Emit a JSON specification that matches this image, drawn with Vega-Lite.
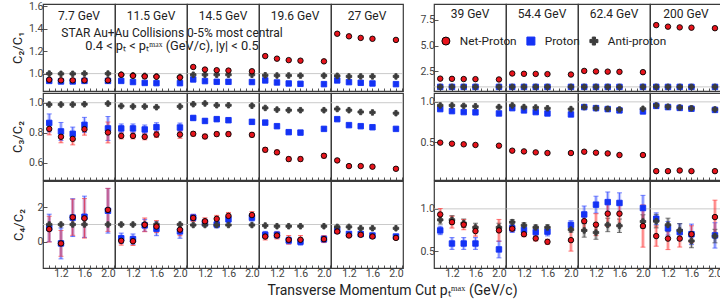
{
"$schema":"https://vega.github.io/schema/vega-lite/v6.json",
"padding":{"left":11,"top":1,"right":0,"bottom":2},
"config":{
 "font":"Roboto",
 "view":{"stroke":"#3a3a3a","strokeWidth":1.2},
 "axis":{"labelFont":"Roboto","labelFontSize":10.5,"labelColor":"#444","tickColor":"#555","domain":false,"grid":false,"tickSize":-4,"labelPadding":4,"titleFont":"Roboto","titleFontWeight":"normal","titleFontSize":13,"titleColor":"#222"},
 "legend":{"title":null,"labelFont":"Roboto","labelFontSize":11.8,"labelColor":"#222","symbolSize":64,"symbolStrokeWidth":1,"columnPadding":7,"labelOffset":8}
},
"title":{"text":"Transverse Momentum Cut pₜᵐᵃˣ (GeV/c)","orient":"bottom","anchor":"middle","fontSize":14,"fontWeight":"normal","font":"Roboto","color":"#222","offset":5,"dx":25},
"resolve":{"scale":{"x":"independent","y":"independent","shape":"shared","fill":"shared","stroke":"shared","color":"shared"},"legend":{"shape":"shared","fill":"shared","stroke":"shared"}},
"columns":2,
"spacing":{"row":-3,"column":15},
"datasets":{
"L1":[
{"e":"7.7 GeV","p":"Proton","x":1,"v":0.935},{"e":"7.7 GeV","p":"Proton","x":1.2,"v":0.93},{"e":"7.7 GeV","p":"Proton","x":1.4,"v":0.93},{"e":"7.7 GeV","p":"Proton","x":1.6,"v":0.935},{"e":"7.7 GeV","p":"Proton","x":2,"v":0.935},
{"e":"11.5 GeV","p":"Proton","x":1,"v":0.935},{"e":"11.5 GeV","p":"Proton","x":1.2,"v":0.925},{"e":"11.5 GeV","p":"Proton","x":1.4,"v":0.917},{"e":"11.5 GeV","p":"Proton","x":1.6,"v":0.915},{"e":"11.5 GeV","p":"Proton","x":2,"v":0.915},
{"e":"14.5 GeV","p":"Proton","x":1,"v":0.948},{"e":"14.5 GeV","p":"Proton","x":1.2,"v":0.933},{"e":"14.5 GeV","p":"Proton","x":1.4,"v":0.927},{"e":"14.5 GeV","p":"Proton","x":1.6,"v":0.927},{"e":"14.5 GeV","p":"Proton","x":2,"v":0.925},
{"e":"19.6 GeV","p":"Proton","x":1,"v":0.939},{"e":"19.6 GeV","p":"Proton","x":1.2,"v":0.921},{"e":"19.6 GeV","p":"Proton","x":1.4,"v":0.912},{"e":"19.6 GeV","p":"Proton","x":1.6,"v":0.909},{"e":"19.6 GeV","p":"Proton","x":2,"v":0.906},
{"e":"27 GeV","p":"Proton","x":1,"v":0.939},{"e":"27 GeV","p":"Proton","x":1.2,"v":0.924},{"e":"27 GeV","p":"Proton","x":1.4,"v":0.918},{"e":"27 GeV","p":"Proton","x":1.6,"v":0.912},{"e":"27 GeV","p":"Proton","x":2,"v":0.906},
{"e":"7.7 GeV","p":"Anti-proton","x":1,"v":1.0},{"e":"7.7 GeV","p":"Anti-proton","x":1.2,"v":0.998},{"e":"7.7 GeV","p":"Anti-proton","x":1.4,"v":0.998},{"e":"7.7 GeV","p":"Anti-proton","x":1.6,"v":1.0},{"e":"7.7 GeV","p":"Anti-proton","x":2,"v":1.0},
{"e":"11.5 GeV","p":"Anti-proton","x":1,"v":0.99},{"e":"11.5 GeV","p":"Anti-proton","x":1.2,"v":0.985},{"e":"11.5 GeV","p":"Anti-proton","x":1.4,"v":0.98},{"e":"11.5 GeV","p":"Anti-proton","x":1.6,"v":0.975},{"e":"11.5 GeV","p":"Anti-proton","x":2,"v":0.97},
{"e":"14.5 GeV","p":"Anti-proton","x":1,"v":0.99},{"e":"14.5 GeV","p":"Anti-proton","x":1.2,"v":0.99},{"e":"14.5 GeV","p":"Anti-proton","x":1.4,"v":0.99},{"e":"14.5 GeV","p":"Anti-proton","x":1.6,"v":0.99},{"e":"14.5 GeV","p":"Anti-proton","x":2,"v":0.99},
{"e":"19.6 GeV","p":"Anti-proton","x":1,"v":0.985},{"e":"19.6 GeV","p":"Anti-proton","x":1.2,"v":0.983},{"e":"19.6 GeV","p":"Anti-proton","x":1.4,"v":0.983},{"e":"19.6 GeV","p":"Anti-proton","x":1.6,"v":0.982},{"e":"19.6 GeV","p":"Anti-proton","x":2,"v":0.982},
{"e":"27 GeV","p":"Anti-proton","x":1,"v":0.98},{"e":"27 GeV","p":"Anti-proton","x":1.2,"v":0.975},{"e":"27 GeV","p":"Anti-proton","x":1.4,"v":0.975},{"e":"27 GeV","p":"Anti-proton","x":1.6,"v":0.975},{"e":"27 GeV","p":"Anti-proton","x":2,"v":0.975},
{"e":"7.7 GeV","p":"Net-Proton","x":1,"v":0.945},{"e":"7.7 GeV","p":"Net-Proton","x":1.2,"v":0.94},{"e":"7.7 GeV","p":"Net-Proton","x":1.4,"v":0.94},{"e":"7.7 GeV","p":"Net-Proton","x":1.6,"v":0.94},{"e":"7.7 GeV","p":"Net-Proton","x":2,"v":0.94},
{"e":"11.5 GeV","p":"Net-Proton","x":1,"v":0.99},{"e":"11.5 GeV","p":"Net-Proton","x":1.2,"v":0.98},{"e":"11.5 GeV","p":"Net-Proton","x":1.4,"v":0.975},{"e":"11.5 GeV","p":"Net-Proton","x":1.6,"v":0.972},{"e":"11.5 GeV","p":"Net-Proton","x":2,"v":0.965},
{"e":"14.5 GeV","p":"Net-Proton","x":1,"v":1.059},{"e":"14.5 GeV","p":"Net-Proton","x":1.2,"v":1.036},{"e":"14.5 GeV","p":"Net-Proton","x":1.4,"v":1.03},{"e":"14.5 GeV","p":"Net-Proton","x":1.6,"v":1.027},{"e":"14.5 GeV","p":"Net-Proton","x":2,"v":1.021},
{"e":"19.6 GeV","p":"Net-Proton","x":1,"v":1.156},{"e":"19.6 GeV","p":"Net-Proton","x":1.2,"v":1.133},{"e":"19.6 GeV","p":"Net-Proton","x":1.4,"v":1.12},{"e":"19.6 GeV","p":"Net-Proton","x":1.6,"v":1.115},{"e":"19.6 GeV","p":"Net-Proton","x":2,"v":1.109},
{"e":"27 GeV","p":"Net-Proton","x":1,"v":1.355},{"e":"27 GeV","p":"Net-Proton","x":1.2,"v":1.332},{"e":"27 GeV","p":"Net-Proton","x":1.4,"v":1.318},{"e":"27 GeV","p":"Net-Proton","x":1.6,"v":1.31},{"e":"27 GeV","p":"Net-Proton","x":2,"v":1.3}
],
"R1":[
{"e":"39 GeV","p":"Proton","x":1,"v":1.0},{"e":"39 GeV","p":"Proton","x":1.2,"v":1.0},{"e":"39 GeV","p":"Proton","x":1.4,"v":1.0},{"e":"39 GeV","p":"Proton","x":1.6,"v":1.0},{"e":"39 GeV","p":"Proton","x":2,"v":1.0},
{"e":"54.4 GeV","p":"Proton","x":1,"v":1.0},{"e":"54.4 GeV","p":"Proton","x":1.2,"v":1.0},{"e":"54.4 GeV","p":"Proton","x":1.4,"v":1.0},{"e":"54.4 GeV","p":"Proton","x":1.6,"v":1.0},{"e":"54.4 GeV","p":"Proton","x":2,"v":1.0},
{"e":"62.4 GeV","p":"Proton","x":1,"v":1.0},{"e":"62.4 GeV","p":"Proton","x":1.2,"v":1.0},{"e":"62.4 GeV","p":"Proton","x":1.4,"v":1.0},{"e":"62.4 GeV","p":"Proton","x":1.6,"v":1.0},{"e":"62.4 GeV","p":"Proton","x":2,"v":1.0},
{"e":"200 GeV","p":"Proton","x":1,"v":1.0},{"e":"200 GeV","p":"Proton","x":1.2,"v":1.0},{"e":"200 GeV","p":"Proton","x":1.4,"v":1.0},{"e":"200 GeV","p":"Proton","x":1.6,"v":1.0},{"e":"200 GeV","p":"Proton","x":2,"v":1.0},
{"e":"39 GeV","p":"Anti-proton","x":1,"v":1.0},{"e":"39 GeV","p":"Anti-proton","x":1.2,"v":1.0},{"e":"39 GeV","p":"Anti-proton","x":1.4,"v":1.0},{"e":"39 GeV","p":"Anti-proton","x":1.6,"v":1.0},{"e":"39 GeV","p":"Anti-proton","x":2,"v":1.0},
{"e":"54.4 GeV","p":"Anti-proton","x":1,"v":1.0},{"e":"54.4 GeV","p":"Anti-proton","x":1.2,"v":1.0},{"e":"54.4 GeV","p":"Anti-proton","x":1.4,"v":1.0},{"e":"54.4 GeV","p":"Anti-proton","x":1.6,"v":1.0},{"e":"54.4 GeV","p":"Anti-proton","x":2,"v":1.0},
{"e":"62.4 GeV","p":"Anti-proton","x":1,"v":1.0},{"e":"62.4 GeV","p":"Anti-proton","x":1.2,"v":1.0},{"e":"62.4 GeV","p":"Anti-proton","x":1.4,"v":1.0},{"e":"62.4 GeV","p":"Anti-proton","x":1.6,"v":1.0},{"e":"62.4 GeV","p":"Anti-proton","x":2,"v":1.0},
{"e":"200 GeV","p":"Anti-proton","x":1,"v":1.0},{"e":"200 GeV","p":"Anti-proton","x":1.2,"v":1.0},{"e":"200 GeV","p":"Anti-proton","x":1.4,"v":1.0},{"e":"200 GeV","p":"Anti-proton","x":1.6,"v":1.0},{"e":"200 GeV","p":"Anti-proton","x":2,"v":1.0},
{"e":"39 GeV","p":"Net-Proton","x":1,"v":1.8},{"e":"39 GeV","p":"Net-Proton","x":1.2,"v":1.78},{"e":"39 GeV","p":"Net-Proton","x":1.4,"v":1.76},{"e":"39 GeV","p":"Net-Proton","x":1.6,"v":1.75},{"e":"39 GeV","p":"Net-Proton","x":2,"v":1.72},
{"e":"54.4 GeV","p":"Net-Proton","x":1,"v":2.3},{"e":"54.4 GeV","p":"Net-Proton","x":1.2,"v":2.27},{"e":"54.4 GeV","p":"Net-Proton","x":1.4,"v":2.26},{"e":"54.4 GeV","p":"Net-Proton","x":1.6,"v":2.24},{"e":"54.4 GeV","p":"Net-Proton","x":2,"v":2.2},
{"e":"62.4 GeV","p":"Net-Proton","x":1,"v":2.55},{"e":"62.4 GeV","p":"Net-Proton","x":1.2,"v":2.5},{"e":"62.4 GeV","p":"Net-Proton","x":1.4,"v":2.48},{"e":"62.4 GeV","p":"Net-Proton","x":1.6,"v":2.46},{"e":"62.4 GeV","p":"Net-Proton","x":2,"v":2.43},
{"e":"200 GeV","p":"Net-Proton","x":1,"v":7.0},{"e":"200 GeV","p":"Net-Proton","x":1.2,"v":6.85},{"e":"200 GeV","p":"Net-Proton","x":1.4,"v":6.78},{"e":"200 GeV","p":"Net-Proton","x":1.6,"v":6.75},{"e":"200 GeV","p":"Net-Proton","x":2,"v":6.7}
],
"L2":[
{"e":"7.7 GeV","p":"Proton","x":1,"v":0.865,"s":0.06},{"e":"7.7 GeV","p":"Proton","x":1.2,"v":0.808,"s":0.06},{"e":"7.7 GeV","p":"Proton","x":1.4,"v":0.792,"s":0.045},{"e":"7.7 GeV","p":"Proton","x":1.6,"v":0.852,"s":0.05},{"e":"7.7 GeV","p":"Proton","x":2,"v":0.828,"s":0.08},
{"e":"11.5 GeV","p":"Proton","x":1,"v":0.828,"s":0.03},{"e":"11.5 GeV","p":"Proton","x":1.2,"v":0.828,"s":0.03},{"e":"11.5 GeV","p":"Proton","x":1.4,"v":0.821,"s":0.03},{"e":"11.5 GeV","p":"Proton","x":1.6,"v":0.836,"s":0.03},{"e":"11.5 GeV","p":"Proton","x":2,"v":0.834,"s":0.03},
{"e":"14.5 GeV","p":"Proton","x":1,"v":0.898,"s":0.015},{"e":"14.5 GeV","p":"Proton","x":1.2,"v":0.878,"s":0.015},{"e":"14.5 GeV","p":"Proton","x":1.4,"v":0.89,"s":0.015},{"e":"14.5 GeV","p":"Proton","x":1.6,"v":0.883,"s":0.015},{"e":"14.5 GeV","p":"Proton","x":2,"v":0.872,"s":0.015},
{"e":"19.6 GeV","p":"Proton","x":1,"v":0.867,"s":0.012},{"e":"19.6 GeV","p":"Proton","x":1.2,"v":0.843,"s":0.012},{"e":"19.6 GeV","p":"Proton","x":1.4,"v":0.803,"s":0.012},{"e":"19.6 GeV","p":"Proton","x":1.6,"v":0.8,"s":0.012},{"e":"19.6 GeV","p":"Proton","x":2,"v":0.825,"s":0.012},
{"e":"27 GeV","p":"Proton","x":1,"v":0.89,"s":0.008},{"e":"27 GeV","p":"Proton","x":1.2,"v":0.85,"s":0.008},{"e":"27 GeV","p":"Proton","x":1.4,"v":0.843,"s":0.008},{"e":"27 GeV","p":"Proton","x":1.6,"v":0.836,"s":0.008},{"e":"27 GeV","p":"Proton","x":2,"v":0.825,"s":0.008},
{"e":"7.7 GeV","p":"Anti-proton","x":1,"v":0.988},{"e":"7.7 GeV","p":"Anti-proton","x":1.2,"v":0.988},{"e":"7.7 GeV","p":"Anti-proton","x":1.4,"v":0.988},{"e":"7.7 GeV","p":"Anti-proton","x":1.6,"v":0.99},{"e":"7.7 GeV","p":"Anti-proton","x":2,"v":0.994},
{"e":"11.5 GeV","p":"Anti-proton","x":1,"v":0.978},{"e":"11.5 GeV","p":"Anti-proton","x":1.2,"v":0.975},{"e":"11.5 GeV","p":"Anti-proton","x":1.4,"v":0.975},{"e":"11.5 GeV","p":"Anti-proton","x":1.6,"v":0.97},{"e":"11.5 GeV","p":"Anti-proton","x":2,"v":0.975},
{"e":"14.5 GeV","p":"Anti-proton","x":1,"v":0.99},{"e":"14.5 GeV","p":"Anti-proton","x":1.2,"v":0.995},{"e":"14.5 GeV","p":"Anti-proton","x":1.4,"v":0.983},{"e":"14.5 GeV","p":"Anti-proton","x":1.6,"v":0.983},{"e":"14.5 GeV","p":"Anti-proton","x":2,"v":0.98},
{"e":"19.6 GeV","p":"Anti-proton","x":1,"v":0.965},{"e":"19.6 GeV","p":"Anti-proton","x":1.2,"v":0.954},{"e":"19.6 GeV","p":"Anti-proton","x":1.4,"v":0.95},{"e":"19.6 GeV","p":"Anti-proton","x":1.6,"v":0.95},{"e":"19.6 GeV","p":"Anti-proton","x":2,"v":0.95},
{"e":"27 GeV","p":"Anti-proton","x":1,"v":0.958},{"e":"27 GeV","p":"Anti-proton","x":1.2,"v":0.95},{"e":"27 GeV","p":"Anti-proton","x":1.4,"v":0.938},{"e":"27 GeV","p":"Anti-proton","x":1.6,"v":0.935},{"e":"27 GeV","p":"Anti-proton","x":2,"v":0.93},
{"e":"7.7 GeV","p":"Net-Proton","x":1,"v":0.825,"s":0.04},{"e":"7.7 GeV","p":"Net-Proton","x":1.2,"v":0.772,"s":0.04},{"e":"7.7 GeV","p":"Net-Proton","x":1.4,"v":0.758,"s":0.04},{"e":"7.7 GeV","p":"Net-Proton","x":1.6,"v":0.823,"s":0.04},{"e":"7.7 GeV","p":"Net-Proton","x":2,"v":0.801,"s":0.07},
{"e":"11.5 GeV","p":"Net-Proton","x":1,"v":0.778,"s":0.02},{"e":"11.5 GeV","p":"Net-Proton","x":1.2,"v":0.778,"s":0.02},{"e":"11.5 GeV","p":"Net-Proton","x":1.4,"v":0.772,"s":0.02},{"e":"11.5 GeV","p":"Net-Proton","x":1.6,"v":0.787,"s":0.02},{"e":"11.5 GeV","p":"Net-Proton","x":2,"v":0.787,"s":0.025},
{"e":"14.5 GeV","p":"Net-Proton","x":1,"v":0.792,"s":0.015},{"e":"14.5 GeV","p":"Net-Proton","x":1.2,"v":0.774,"s":0.015},{"e":"14.5 GeV","p":"Net-Proton","x":1.4,"v":0.79,"s":0.015},{"e":"14.5 GeV","p":"Net-Proton","x":1.6,"v":0.79,"s":0.015},{"e":"14.5 GeV","p":"Net-Proton","x":2,"v":0.785,"s":0.015},
{"e":"19.6 GeV","p":"Net-Proton","x":1,"v":0.685,"s":0.015},{"e":"19.6 GeV","p":"Net-Proton","x":1.2,"v":0.668,"s":0.015},{"e":"19.6 GeV","p":"Net-Proton","x":1.4,"v":0.623,"s":0.015},{"e":"19.6 GeV","p":"Net-Proton","x":1.6,"v":0.623,"s":0.015},{"e":"19.6 GeV","p":"Net-Proton","x":2,"v":0.645,"s":0.015},
{"e":"27 GeV","p":"Net-Proton","x":1,"v":0.614,"s":0.01},{"e":"27 GeV","p":"Net-Proton","x":1.2,"v":0.576,"s":0.01},{"e":"27 GeV","p":"Net-Proton","x":1.4,"v":0.576,"s":0.01},{"e":"27 GeV","p":"Net-Proton","x":1.6,"v":0.572,"s":0.01},{"e":"27 GeV","p":"Net-Proton","x":2,"v":0.558,"s":0.01}
],
"R2":[
{"e":"39 GeV","p":"Proton","x":1,"v":0.91},{"e":"39 GeV","p":"Proton","x":1.2,"v":0.885},{"e":"39 GeV","p":"Proton","x":1.4,"v":0.873},{"e":"39 GeV","p":"Proton","x":1.6,"v":0.87},{"e":"39 GeV","p":"Proton","x":2,"v":0.856},
{"e":"54.4 GeV","p":"Proton","x":1,"v":0.922},{"e":"54.4 GeV","p":"Proton","x":1.2,"v":0.894},{"e":"54.4 GeV","p":"Proton","x":1.4,"v":0.873},{"e":"54.4 GeV","p":"Proton","x":1.6,"v":0.856},{"e":"54.4 GeV","p":"Proton","x":2,"v":0.844},
{"e":"62.4 GeV","p":"Proton","x":1,"v":0.935},{"e":"62.4 GeV","p":"Proton","x":1.2,"v":0.922},{"e":"62.4 GeV","p":"Proton","x":1.4,"v":0.91},{"e":"62.4 GeV","p":"Proton","x":1.6,"v":0.894},{"e":"62.4 GeV","p":"Proton","x":2,"v":0.881},
{"e":"200 GeV","p":"Proton","x":1,"v":0.95},{"e":"200 GeV","p":"Proton","x":1.2,"v":0.935},{"e":"200 GeV","p":"Proton","x":1.4,"v":0.925},{"e":"200 GeV","p":"Proton","x":1.6,"v":0.915},{"e":"200 GeV","p":"Proton","x":2,"v":0.9},
{"e":"39 GeV","p":"Anti-proton","x":1,"v":0.956},{"e":"39 GeV","p":"Anti-proton","x":1.2,"v":0.956},{"e":"39 GeV","p":"Anti-proton","x":1.4,"v":0.95},{"e":"39 GeV","p":"Anti-proton","x":1.6,"v":0.945},{"e":"39 GeV","p":"Anti-proton","x":2,"v":0.935},
{"e":"54.4 GeV","p":"Anti-proton","x":1,"v":0.956},{"e":"54.4 GeV","p":"Anti-proton","x":1.2,"v":0.935},{"e":"54.4 GeV","p":"Anti-proton","x":1.4,"v":0.93},{"e":"54.4 GeV","p":"Anti-proton","x":1.6,"v":0.92},{"e":"54.4 GeV","p":"Anti-proton","x":2,"v":0.91},
{"e":"62.4 GeV","p":"Anti-proton","x":1,"v":0.935},{"e":"62.4 GeV","p":"Anti-proton","x":1.2,"v":0.922},{"e":"62.4 GeV","p":"Anti-proton","x":1.4,"v":0.914},{"e":"62.4 GeV","p":"Anti-proton","x":1.6,"v":0.906},{"e":"62.4 GeV","p":"Anti-proton","x":2,"v":0.914},
{"e":"200 GeV","p":"Anti-proton","x":1,"v":0.956},{"e":"200 GeV","p":"Anti-proton","x":1.2,"v":0.94},{"e":"200 GeV","p":"Anti-proton","x":1.4,"v":0.93},{"e":"200 GeV","p":"Anti-proton","x":1.6,"v":0.92},{"e":"200 GeV","p":"Anti-proton","x":2,"v":0.906},
{"e":"39 GeV","p":"Net-Proton","x":1,"v":0.494},{"e":"39 GeV","p":"Net-Proton","x":1.2,"v":0.481},{"e":"39 GeV","p":"Net-Proton","x":1.4,"v":0.473},{"e":"39 GeV","p":"Net-Proton","x":1.6,"v":0.465},{"e":"39 GeV","p":"Net-Proton","x":2,"v":0.456},
{"e":"54.4 GeV","p":"Net-Proton","x":1,"v":0.394},{"e":"54.4 GeV","p":"Net-Proton","x":1.2,"v":0.385},{"e":"54.4 GeV","p":"Net-Proton","x":1.4,"v":0.373},{"e":"54.4 GeV","p":"Net-Proton","x":1.6,"v":0.365},{"e":"54.4 GeV","p":"Net-Proton","x":2,"v":0.365},
{"e":"62.4 GeV","p":"Net-Proton","x":1,"v":0.381},{"e":"62.4 GeV","p":"Net-Proton","x":1.2,"v":0.369},{"e":"62.4 GeV","p":"Net-Proton","x":1.4,"v":0.36},{"e":"62.4 GeV","p":"Net-Proton","x":1.6,"v":0.34},{"e":"62.4 GeV","p":"Net-Proton","x":2,"v":0.34},
{"e":"200 GeV","p":"Net-Proton","x":1,"v":0.14},{"e":"200 GeV","p":"Net-Proton","x":1.2,"v":0.14},{"e":"200 GeV","p":"Net-Proton","x":1.4,"v":0.148},{"e":"200 GeV","p":"Net-Proton","x":1.6,"v":0.14},{"e":"200 GeV","p":"Net-Proton","x":2,"v":0.14}
],
"L3":[
{"e":"7.7 GeV","p":"Proton","x":1,"v":0.8,"s":0.8},{"e":"7.7 GeV","p":"Proton","x":1.2,"v":-0.1,"s":0.9},{"e":"7.7 GeV","p":"Proton","x":1.4,"v":1.4,"s":1.1},{"e":"7.7 GeV","p":"Proton","x":1.6,"v":1.45,"s":1.2},{"e":"7.7 GeV","p":"Proton","x":2,"v":1.8,"s":1.3},
{"e":"11.5 GeV","p":"Proton","x":1,"v":0.2,"s":0.3},{"e":"11.5 GeV","p":"Proton","x":1.2,"v":0.15,"s":0.3},{"e":"11.5 GeV","p":"Proton","x":1.4,"v":0.95,"s":0.35},{"e":"11.5 GeV","p":"Proton","x":1.6,"v":0.75,"s":0.4},{"e":"11.5 GeV","p":"Proton","x":2,"v":0.6,"s":0.4},
{"e":"14.5 GeV","p":"Proton","x":1,"v":1.4,"s":0.2},{"e":"14.5 GeV","p":"Proton","x":1.2,"v":1.1,"s":0.2},{"e":"14.5 GeV","p":"Proton","x":1.4,"v":1.0,"s":0.2},{"e":"14.5 GeV","p":"Proton","x":1.6,"v":1.3,"s":0.2},{"e":"14.5 GeV","p":"Proton","x":2,"v":1.4,"s":0.2},
{"e":"19.6 GeV","p":"Proton","x":1,"v":0.4,"s":0.2},{"e":"19.6 GeV","p":"Proton","x":1.2,"v":0.4,"s":0.2},{"e":"19.6 GeV","p":"Proton","x":1.4,"v":0.07,"s":0.2},{"e":"19.6 GeV","p":"Proton","x":1.6,"v":0.0,"s":0.2},{"e":"19.6 GeV","p":"Proton","x":2,"v":0.15,"s":0.2},
{"e":"27 GeV","p":"Proton","x":1,"v":0.65,"s":0.1},{"e":"27 GeV","p":"Proton","x":1.2,"v":0.45,"s":0.1},{"e":"27 GeV","p":"Proton","x":1.4,"v":0.45,"s":0.1},{"e":"27 GeV","p":"Proton","x":1.6,"v":0.36,"s":0.1},{"e":"27 GeV","p":"Proton","x":2,"v":0.3,"s":0.1},
{"e":"7.7 GeV","p":"Anti-proton","x":1,"v":1.0},{"e":"7.7 GeV","p":"Anti-proton","x":1.2,"v":1.0},{"e":"7.7 GeV","p":"Anti-proton","x":1.4,"v":1.0},{"e":"7.7 GeV","p":"Anti-proton","x":1.6,"v":1.0},{"e":"7.7 GeV","p":"Anti-proton","x":2,"v":1.0},
{"e":"11.5 GeV","p":"Anti-proton","x":1,"v":1.0},{"e":"11.5 GeV","p":"Anti-proton","x":1.2,"v":1.0},{"e":"11.5 GeV","p":"Anti-proton","x":1.4,"v":1.0},{"e":"11.5 GeV","p":"Anti-proton","x":1.6,"v":1.0},{"e":"11.5 GeV","p":"Anti-proton","x":2,"v":1.0},
{"e":"14.5 GeV","p":"Anti-proton","x":1,"v":0.97},{"e":"14.5 GeV","p":"Anti-proton","x":1.2,"v":0.97},{"e":"14.5 GeV","p":"Anti-proton","x":1.4,"v":0.97},{"e":"14.5 GeV","p":"Anti-proton","x":1.6,"v":0.97},{"e":"14.5 GeV","p":"Anti-proton","x":2,"v":0.97},
{"e":"19.6 GeV","p":"Anti-proton","x":1,"v":0.94},{"e":"19.6 GeV","p":"Anti-proton","x":1.2,"v":0.9},{"e":"19.6 GeV","p":"Anti-proton","x":1.4,"v":0.9},{"e":"19.6 GeV","p":"Anti-proton","x":1.6,"v":0.9},{"e":"19.6 GeV","p":"Anti-proton","x":2,"v":0.9},
{"e":"27 GeV","p":"Anti-proton","x":1,"v":0.86},{"e":"27 GeV","p":"Anti-proton","x":1.2,"v":0.86},{"e":"27 GeV","p":"Anti-proton","x":1.4,"v":0.78},{"e":"27 GeV","p":"Anti-proton","x":1.6,"v":0.78},{"e":"27 GeV","p":"Anti-proton","x":2,"v":0.78},
{"e":"7.7 GeV","p":"Net-Proton","x":1,"v":0.73,"s":0.75},{"e":"7.7 GeV","p":"Net-Proton","x":1.2,"v":-0.1,"s":0.75},{"e":"7.7 GeV","p":"Net-Proton","x":1.4,"v":1.42,"s":1.05},{"e":"7.7 GeV","p":"Net-Proton","x":1.6,"v":1.36,"s":1.15},{"e":"7.7 GeV","p":"Net-Proton","x":2,"v":1.85,"s":1.25},
{"e":"11.5 GeV","p":"Net-Proton","x":1,"v":0.05,"s":0.25},{"e":"11.5 GeV","p":"Net-Proton","x":1.2,"v":0.03,"s":0.25},{"e":"11.5 GeV","p":"Net-Proton","x":1.4,"v":0.98,"s":0.4},{"e":"11.5 GeV","p":"Net-Proton","x":1.6,"v":0.88,"s":0.35},{"e":"11.5 GeV","p":"Net-Proton","x":2,"v":0.7,"s":0.35},
{"e":"14.5 GeV","p":"Net-Proton","x":1,"v":1.38,"s":0.2},{"e":"14.5 GeV","p":"Net-Proton","x":1.2,"v":1.19,"s":0.2},{"e":"14.5 GeV","p":"Net-Proton","x":1.4,"v":1.33,"s":0.2},{"e":"14.5 GeV","p":"Net-Proton","x":1.6,"v":1.5,"s":0.2},{"e":"14.5 GeV","p":"Net-Proton","x":2,"v":1.55,"s":0.2},
{"e":"19.6 GeV","p":"Net-Proton","x":1,"v":0.3,"s":0.2},{"e":"19.6 GeV","p":"Net-Proton","x":1.2,"v":0.36,"s":0.2},{"e":"19.6 GeV","p":"Net-Proton","x":1.4,"v":0.11,"s":0.25},{"e":"19.6 GeV","p":"Net-Proton","x":1.6,"v":0.11,"s":0.25},{"e":"19.6 GeV","p":"Net-Proton","x":2,"v":0.15,"s":0.2},
{"e":"27 GeV","p":"Net-Proton","x":1,"v":0.59,"s":0.1},{"e":"27 GeV","p":"Net-Proton","x":1.2,"v":0.36,"s":0.1},{"e":"27 GeV","p":"Net-Proton","x":1.4,"v":0.4,"s":0.1},{"e":"27 GeV","p":"Net-Proton","x":1.6,"v":0.3,"s":0.1},{"e":"27 GeV","p":"Net-Proton","x":2,"v":0.22,"s":0.1}
],
"R3":[
{"e":"39 GeV","p":"Proton","x":1,"v":0.745,"s":0.05},{"e":"39 GeV","p":"Proton","x":1.2,"v":0.59,"s":0.07},{"e":"39 GeV","p":"Proton","x":1.4,"v":0.59,"s":0.07},{"e":"39 GeV","p":"Proton","x":1.6,"v":0.59,"s":0.07},{"e":"39 GeV","p":"Proton","x":2,"v":0.52,"s":0.1},
{"e":"54.4 GeV","p":"Proton","x":1,"v":0.77,"s":0.05},{"e":"54.4 GeV","p":"Proton","x":1.2,"v":0.75,"s":0.05},{"e":"54.4 GeV","p":"Proton","x":1.4,"v":0.725,"s":0.05},{"e":"54.4 GeV","p":"Proton","x":1.6,"v":0.73,"s":0.05},{"e":"54.4 GeV","p":"Proton","x":2,"v":0.81,"s":0.05},
{"e":"62.4 GeV","p":"Proton","x":1,"v":0.934,"s":0.1},{"e":"62.4 GeV","p":"Proton","x":1.2,"v":1.05,"s":0.1},{"e":"62.4 GeV","p":"Proton","x":1.4,"v":1.08,"s":0.12},{"e":"62.4 GeV","p":"Proton","x":1.6,"v":1.07,"s":0.12},{"e":"62.4 GeV","p":"Proton","x":2,"v":1.01,"s":0.15},
{"e":"200 GeV","p":"Proton","x":1,"v":0.883,"s":0.07},{"e":"200 GeV","p":"Proton","x":1.2,"v":0.77,"s":0.08},{"e":"200 GeV","p":"Proton","x":1.4,"v":0.725,"s":0.1},{"e":"200 GeV","p":"Proton","x":1.6,"v":0.7,"s":0.12},{"e":"200 GeV","p":"Proton","x":2,"v":0.686,"s":0.15},
{"e":"39 GeV","p":"Anti-proton","x":1,"v":0.87,"s":0.05},{"e":"39 GeV","p":"Anti-proton","x":1.2,"v":0.87,"s":0.05},{"e":"39 GeV","p":"Anti-proton","x":1.4,"v":0.83,"s":0.05},{"e":"39 GeV","p":"Anti-proton","x":1.6,"v":0.78,"s":0.05},{"e":"39 GeV","p":"Anti-proton","x":2,"v":0.78,"s":0.05},
{"e":"54.4 GeV","p":"Anti-proton","x":1,"v":0.843,"s":0.03},{"e":"54.4 GeV","p":"Anti-proton","x":1.2,"v":0.805,"s":0.03},{"e":"54.4 GeV","p":"Anti-proton","x":1.4,"v":0.78,"s":0.03},{"e":"54.4 GeV","p":"Anti-proton","x":1.6,"v":0.78,"s":0.03},{"e":"54.4 GeV","p":"Anti-proton","x":2,"v":0.755,"s":0.03},
{"e":"62.4 GeV","p":"Anti-proton","x":1,"v":0.745,"s":0.08},{"e":"62.4 GeV","p":"Anti-proton","x":1.2,"v":0.72,"s":0.08},{"e":"62.4 GeV","p":"Anti-proton","x":1.4,"v":0.81,"s":0.08},{"e":"62.4 GeV","p":"Anti-proton","x":1.6,"v":0.8,"s":0.08},{"e":"62.4 GeV","p":"Anti-proton","x":2,"v":0.85,"s":0.08},
{"e":"200 GeV","p":"Anti-proton","x":1,"v":0.855,"s":0.08},{"e":"200 GeV","p":"Anti-proton","x":1.2,"v":0.81,"s":0.08},{"e":"200 GeV","p":"Anti-proton","x":1.4,"v":0.745,"s":0.08},{"e":"200 GeV","p":"Anti-proton","x":1.6,"v":0.62,"s":0.08},{"e":"200 GeV","p":"Anti-proton","x":2,"v":0.678,"s":0.08},
{"e":"39 GeV","p":"Net-Proton","x":1,"v":0.934,"s":0.07},{"e":"39 GeV","p":"Net-Proton","x":1.2,"v":0.843,"s":0.07},{"e":"39 GeV","p":"Net-Proton","x":1.4,"v":0.813,"s":0.06},{"e":"39 GeV","p":"Net-Proton","x":1.6,"v":0.737,"s":0.06},{"e":"39 GeV","p":"Net-Proton","x":2,"v":0.745,"s":0.13},
{"e":"54.4 GeV","p":"Net-Proton","x":1,"v":0.766,"s":0.03},{"e":"54.4 GeV","p":"Net-Proton","x":1.2,"v":0.7,"s":0.03},{"e":"54.4 GeV","p":"Net-Proton","x":1.4,"v":0.65,"s":0.03},{"e":"54.4 GeV","p":"Net-Proton","x":1.6,"v":0.61,"s":0.03},{"e":"54.4 GeV","p":"Net-Proton","x":2,"v":0.63,"s":0.13},
{"e":"62.4 GeV","p":"Net-Proton","x":1,"v":0.855,"s":0.1},{"e":"62.4 GeV","p":"Net-Proton","x":1.2,"v":0.813,"s":0.13},{"e":"62.4 GeV","p":"Net-Proton","x":1.4,"v":0.943,"s":0.15},{"e":"62.4 GeV","p":"Net-Proton","x":1.6,"v":0.943,"s":0.15},{"e":"62.4 GeV","p":"Net-Proton","x":2,"v":0.797,"s":0.25},
{"e":"200 GeV","p":"Net-Proton","x":1,"v":0.678,"s":0.12},{"e":"200 GeV","p":"Net-Proton","x":1.2,"v":0.648,"s":0.13},{"e":"200 GeV","p":"Net-Proton","x":1.4,"v":0.648,"s":0.1},{"e":"200 GeV","p":"Net-Proton","x":1.6,"v":0.7,"s":0.1},{"e":"200 GeV","p":"Net-Proton","x":2,"v":0.903,"s":0.2}
]
},
"concat":[
{"data":{"name":"L1"},"spacing":0,"bounds":"flush",
 "facet":{"column":{"field":"e","type":"nominal","sort":["7.7 GeV","11.5 GeV","14.5 GeV","19.6 GeV","27 GeV"],"title":null,"header":{"labels":false,"title":null}}},
 "spec":{"width":72,"height":87,
  "encoding":{
    "x":{"field":"x","type":"quantitative","scale":{"domain":[0.894,2.12],"nice":false,"zero":false},"axis":{"values":[1.0,1.1,1.2,1.3,1.4,1.5,1.6,1.7,1.8,1.9,2.0,2.1],"labels":false,"title":null,"tickSize":-3}},
    "y":{"field":"v","type":"quantitative","title":"C₂/C₁","scale":{"domain":[0.845,1.62],"nice":false,"zero":false},"axis":{"values":[1.0,1.2,1.4,1.6],"format":".1f","titlePadding":3.5}}},
  "layer":[
  {"transform":[{"filter":"datum.x==1 && datum.p=='Net-Proton'"}],"mark":{"type":"rule","color":"#bdbdbd","strokeWidth":0.8},"encoding":{"x":{"datum":0.894},"x2":{"datum":2.12},"y":{"datum":1}}},
  {"mark":{"type":"point","filled":true,"size":30,"strokeWidth":0.9,"opacity":1},
   "encoding":{
    "shape":{"field":"p","type":"nominal","scale":{"domain":["Net-Proton","Proton","Anti-proton"],"range":["circle","square","cross"]},"legend":{"orient":"none","legendX":397,"legendY":31,"direction":"horizontal","title":null}},
    "fill":{"field":"p","type":"nominal","scale":{"domain":["Net-Proton","Proton","Anti-proton"],"range":["#e8141c","#1432f5","#3c3c3c"]},"legend":{"orient":"none","legendX":397,"legendY":31,"direction":"horizontal","title":null}},
    "stroke":{"field":"p","type":"nominal","scale":{"domain":["Net-Proton","Proton","Anti-proton"],"range":["#000000","#1432f5","#3c3c3c"]},"legend":{"orient":"none","legendX":397,"legendY":31,"direction":"horizontal","title":null}}}},
  {"transform":[{"filter":"datum.x==1 && datum.p=='Net-Proton'"}],"mark":{"type":"text","fontSize":12,"color":"#222","align":"center","baseline":"middle"},"encoding":{"x":{"datum":1.507},"y":{"datum":1.514},"text":{"field":"e"}}},
  {"transform":[{"filter":"datum.x==1 && datum.p=='Net-Proton' && datum.e=='7.7 GeV'"}],"mark":{"type":"text","fontSize":12,"color":"#222","align":"center","baseline":"middle"},"encoding":{"x":{"datum":3.09},"y":{"datum":1.365},"text":{"value":"STAR Au+Au Collisions 0-5% most central"}}},
  {"transform":[{"filter":"datum.x==1 && datum.p=='Net-Proton' && datum.e=='7.7 GeV'"}],"mark":{"type":"text","fontSize":12.8,"color":"#222","align":"center","baseline":"middle"},"encoding":{"x":{"datum":3.09},"y":{"datum":1.245},"text":{"value":"0.4 < pₜ < pₜᵐᵃˣ (GeV/c), |y| < 0.5"}}}
 ]}},
{"data":{"name":"R1"},"spacing":0,"bounds":"flush",
 "facet":{"column":{"field":"e","type":"nominal","sort":["39 GeV","54.4 GeV","62.4 GeV","200 GeV"],"title":null,"header":{"labels":false,"title":null}}},
 "spec":{"width":72,"height":87,
  "encoding":{
    "x":{"field":"x","type":"quantitative","scale":{"domain":[0.894,2.12],"nice":false,"zero":false},"axis":{"values":[1.0,1.1,1.2,1.3,1.4,1.5,1.6,1.7,1.8,1.9,2.0,2.1],"labels":false,"title":null,"tickSize":-3}},
    "y":{"field":"v","type":"quantitative","title":null,"scale":{"domain":[0.6,9.05],"nice":false,"zero":false},"axis":{"values":[2.5,5,7.5],"format":".1f","labelPadding":3.5}}},
  "layer":[
  {"transform":[{"filter":"datum.x==1 && datum.p=='Net-Proton'"}],"mark":{"type":"rule","color":"#bdbdbd","strokeWidth":0.8},"encoding":{"x":{"datum":0.894},"x2":{"datum":2.12},"y":{"datum":1}}},
  {"mark":{"type":"point","filled":true,"size":30,"strokeWidth":0.9,"opacity":1},
   "encoding":{
    "shape":{"field":"p","type":"nominal","scale":{"domain":["Net-Proton","Proton","Anti-proton"],"range":["circle","square","cross"]}},
    "fill":{"field":"p","type":"nominal","scale":{"domain":["Net-Proton","Proton","Anti-proton"],"range":["#e8141c","#1432f5","#3c3c3c"]}},
    "stroke":{"field":"p","type":"nominal","scale":{"domain":["Net-Proton","Proton","Anti-proton"],"range":["#000000","#1432f5","#3c3c3c"]}}}},
  {"transform":[{"filter":"datum.x==1 && datum.p=='Net-Proton'"}],"mark":{"type":"text","fontSize":12,"color":"#222","align":"center","baseline":"middle"},"encoding":{"x":{"datum":1.507},"y":{"datum":8.06},"text":{"field":"e"}}}
 ]}},
{"data":{"name":"L2"},"spacing":0,"bounds":"flush",
 "facet":{"column":{"field":"e","type":"nominal","sort":["7.7 GeV","11.5 GeV","14.5 GeV","19.6 GeV","27 GeV"],"title":null,"header":{"labels":false,"title":null}}},
 "spec":{"width":72,"height":87,
  "encoding":{
    "x":{"field":"x","type":"quantitative","scale":{"domain":[0.894,2.12],"nice":false,"zero":false},"axis":{"values":[1.0,1.1,1.2,1.3,1.4,1.5,1.6,1.7,1.8,1.9,2.0,2.1],"labels":false,"title":null,"tickSize":-3}},
    "y":{"field":"v","type":"quantitative","title":"C₃/C₂","scale":{"domain":[0.483,1.065],"nice":false,"zero":false},"axis":{"values":[0.6,0.8,1.0],"format":".1f","titlePadding":3.5}}},
  "layer":[
  {"transform":[{"filter":"datum.x==1 && datum.p=='Net-Proton'"}],"mark":{"type":"rule","color":"#bdbdbd","strokeWidth":0.8},"encoding":{"x":{"datum":0.894},"x2":{"datum":2.12},"y":{"datum":1}}},
  {"transform":[{"filter":"datum.s>0"}],"mark":{"type":"errorbar","rule":{"strokeWidth":3.5,"opacity":0.3}},
   "encoding":{"yError":{"field":"s"},"color":{"field":"p","type":"nominal","scale":{"domain":["Net-Proton","Proton","Anti-proton"],"range":["#ff4040","#3a50ff","#444444"]},"legend":null}}},
  {"transform":[{"filter":"datum.s>0"}],"mark":{"type":"errorbar","ticks":true,"rule":{"strokeWidth":1,"opacity":0.8}},
   "encoding":{"yError":{"field":"s"},"color":{"field":"p","type":"nominal","scale":{"domain":["Net-Proton","Proton","Anti-proton"],"range":["#ff4040","#3a50ff","#444444"]},"legend":null}}},
  {"mark":{"type":"point","filled":true,"size":30,"strokeWidth":0.9,"opacity":1},
   "encoding":{
    "shape":{"field":"p","type":"nominal","scale":{"domain":["Net-Proton","Proton","Anti-proton"],"range":["circle","square","cross"]}},
    "fill":{"field":"p","type":"nominal","scale":{"domain":["Net-Proton","Proton","Anti-proton"],"range":["#e8141c","#1432f5","#3c3c3c"]}},
    "stroke":{"field":"p","type":"nominal","scale":{"domain":["Net-Proton","Proton","Anti-proton"],"range":["#000000","#1432f5","#3c3c3c"]}}}}
 ]}},
{"data":{"name":"R2"},"spacing":0,"bounds":"flush",
 "facet":{"column":{"field":"e","type":"nominal","sort":["39 GeV","54.4 GeV","62.4 GeV","200 GeV"],"title":null,"header":{"labels":false,"title":null}}},
 "spec":{"width":72,"height":87,
  "encoding":{
    "x":{"field":"x","type":"quantitative","scale":{"domain":[0.894,2.12],"nice":false,"zero":false},"axis":{"values":[1.0,1.1,1.2,1.3,1.4,1.5,1.6,1.7,1.8,1.9,2.0,2.1],"labels":false,"title":null,"tickSize":-3}},
    "y":{"field":"v","type":"quantitative","title":null,"scale":{"domain":[0.03,1.11],"nice":false,"zero":false},"axis":{"values":[0.5,1.0],"format":".1f","labelPadding":3.5}}},
  "layer":[
  {"transform":[{"filter":"datum.x==1 && datum.p=='Net-Proton'"}],"mark":{"type":"rule","color":"#bdbdbd","strokeWidth":0.8},"encoding":{"x":{"datum":0.894},"x2":{"datum":2.12},"y":{"datum":1}}},
  {"mark":{"type":"point","filled":true,"size":30,"strokeWidth":0.9,"opacity":1},
   "encoding":{
    "shape":{"field":"p","type":"nominal","scale":{"domain":["Net-Proton","Proton","Anti-proton"],"range":["circle","square","cross"]}},
    "fill":{"field":"p","type":"nominal","scale":{"domain":["Net-Proton","Proton","Anti-proton"],"range":["#e8141c","#1432f5","#3c3c3c"]}},
    "stroke":{"field":"p","type":"nominal","scale":{"domain":["Net-Proton","Proton","Anti-proton"],"range":["#000000","#1432f5","#3c3c3c"]}}}}
 ]}},
{"data":{"name":"L3"},"spacing":0,"bounds":"flush",
 "facet":{"column":{"field":"e","type":"nominal","sort":["7.7 GeV","11.5 GeV","14.5 GeV","19.6 GeV","27 GeV"],"title":null,"header":{"labels":false,"title":null}}},
 "spec":{"width":72,"height":87,
  "encoding":{
    "x":{"field":"x","type":"quantitative","scale":{"domain":[0.894,2.12],"nice":false,"zero":false},"axis":{"values":[1.0,1.1,1.2,1.3,1.4,1.5,1.6,1.7,1.8,1.9,2.0,2.1],"labelExpr":"(datum.value>1.19 && datum.value<1.21) || (datum.value>1.59 && datum.value<1.61) || (datum.value>1.99 && datum.value<2.01) ? format(datum.value,'.1f') : ''","title":null,"tickSize":-3,"labelPadding":3}},
    "y":{"field":"v","type":"quantitative","title":"C₄/C₂","scale":{"domain":[-1.53,3.53],"nice":false,"zero":false},"axis":{"values":[0,2],"format":"d","titlePadding":12}}},
  "layer":[
  {"transform":[{"filter":"datum.x==1 && datum.p=='Net-Proton'"}],"mark":{"type":"rule","color":"#bdbdbd","strokeWidth":0.8},"encoding":{"x":{"datum":0.894},"x2":{"datum":2.12},"y":{"datum":1}}},
  {"transform":[{"filter":"datum.s>0"}],"mark":{"type":"errorbar","rule":{"strokeWidth":3.5,"opacity":0.3}},
   "encoding":{"yError":{"field":"s"},"color":{"field":"p","type":"nominal","scale":{"domain":["Net-Proton","Proton","Anti-proton"],"range":["#ff4040","#3a50ff","#444444"]},"legend":null}}},
  {"transform":[{"filter":"datum.s>0"}],"mark":{"type":"errorbar","ticks":true,"rule":{"strokeWidth":1,"opacity":0.8}},
   "encoding":{"yError":{"field":"s"},"color":{"field":"p","type":"nominal","scale":{"domain":["Net-Proton","Proton","Anti-proton"],"range":["#ff4040","#3a50ff","#444444"]},"legend":null}}},
  {"mark":{"type":"point","filled":true,"size":30,"strokeWidth":0.9,"opacity":1},
   "encoding":{
    "shape":{"field":"p","type":"nominal","scale":{"domain":["Net-Proton","Proton","Anti-proton"],"range":["circle","square","cross"]}},
    "fill":{"field":"p","type":"nominal","scale":{"domain":["Net-Proton","Proton","Anti-proton"],"range":["#e8141c","#1432f5","#3c3c3c"]}},
    "stroke":{"field":"p","type":"nominal","scale":{"domain":["Net-Proton","Proton","Anti-proton"],"range":["#000000","#1432f5","#3c3c3c"]}}}}
 ]}},
{"data":{"name":"R3"},"spacing":0,"bounds":"flush",
 "facet":{"column":{"field":"e","type":"nominal","sort":["39 GeV","54.4 GeV","62.4 GeV","200 GeV"],"title":null,"header":{"labels":false,"title":null}}},
 "spec":{"width":72,"height":87,
  "encoding":{
    "x":{"field":"x","type":"quantitative","scale":{"domain":[0.894,2.12],"nice":false,"zero":false},"axis":{"values":[1.0,1.1,1.2,1.3,1.4,1.5,1.6,1.7,1.8,1.9,2.0,2.1],"labelExpr":"(datum.value>1.19 && datum.value<1.21) || (datum.value>1.59 && datum.value<1.61) || (datum.value>1.99 && datum.value<2.01) ? format(datum.value,'.1f') : ''","title":null,"tickSize":-3,"labelPadding":3}},
    "y":{"field":"v","type":"quantitative","title":null,"scale":{"domain":[0.3,1.33],"nice":false,"zero":false},"axis":{"values":[0.5,1.0],"format":".1f","labelPadding":3.5}}},
  "layer":[
  {"transform":[{"filter":"datum.x==1 && datum.p=='Net-Proton'"}],"mark":{"type":"rule","color":"#bdbdbd","strokeWidth":0.8},"encoding":{"x":{"datum":0.894},"x2":{"datum":2.12},"y":{"datum":1}}},
  {"transform":[{"filter":"datum.s>0"}],"mark":{"type":"errorbar","rule":{"strokeWidth":3.5,"opacity":0.3}},
   "encoding":{"yError":{"field":"s"},"color":{"field":"p","type":"nominal","scale":{"domain":["Net-Proton","Proton","Anti-proton"],"range":["#ff4040","#3a50ff","#444444"]},"legend":null}}},
  {"transform":[{"filter":"datum.s>0"}],"mark":{"type":"errorbar","ticks":true,"rule":{"strokeWidth":1,"opacity":0.8}},
   "encoding":{"yError":{"field":"s"},"color":{"field":"p","type":"nominal","scale":{"domain":["Net-Proton","Proton","Anti-proton"],"range":["#ff4040","#3a50ff","#444444"]},"legend":null}}},
  {"mark":{"type":"point","filled":true,"size":30,"strokeWidth":0.9,"opacity":1},
   "encoding":{
    "shape":{"field":"p","type":"nominal","scale":{"domain":["Net-Proton","Proton","Anti-proton"],"range":["circle","square","cross"]}},
    "fill":{"field":"p","type":"nominal","scale":{"domain":["Net-Proton","Proton","Anti-proton"],"range":["#e8141c","#1432f5","#3c3c3c"]}},
    "stroke":{"field":"p","type":"nominal","scale":{"domain":["Net-Proton","Proton","Anti-proton"],"range":["#000000","#1432f5","#3c3c3c"]}}}}
 ]}}
]
}
